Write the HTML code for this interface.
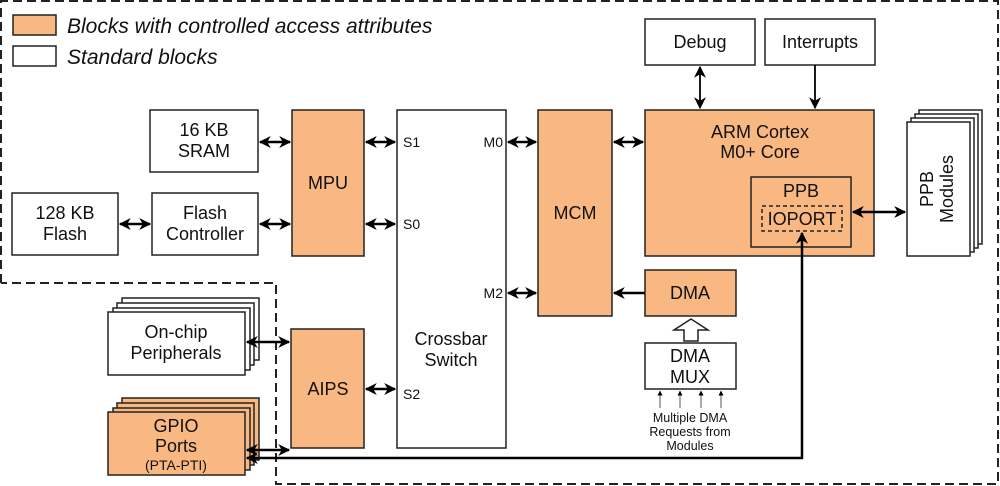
<!DOCTYPE html>
<html><head><meta charset="utf-8"><style>
html,body{margin:0;padding:0;background:#fff}
svg{display:block}
text{font-family:"Liberation Sans",Arial,sans-serif;fill:#111}
</style></head><body>
<svg width="1000" height="486" viewBox="0 0 1000 486" xmlns="http://www.w3.org/2000/svg">
<defs>
<marker id="a" viewBox="0 0 10 10" refX="9" refY="5" markerWidth="12" markerHeight="12" markerUnits="userSpaceOnUse" orient="auto-start-reverse"><path d="M0,0L10,5L0,10L3,5z" fill="#000"/></marker>
<marker id="s" viewBox="0 0 10 10" refX="9" refY="5" markerWidth="5" markerHeight="6" markerUnits="userSpaceOnUse" orient="auto"><path d="M0,0L10,5L0,10z" fill="#000"/></marker>
</defs>
<g fill="none" stroke="#222" stroke-width="2" stroke-dasharray="9,5">
<path d="M1,283 V1 H998 V484 H276 V283 H1"/>
</g>
<g stroke="#222" stroke-width="1.5">
<rect x="13" y="15" width="43" height="20" fill="#f9b882"/>
<rect x="13" y="46" width="43" height="20" fill="#fff"/>
</g>
<text x="67" y="33" font-size="21" font-style="italic">Blocks with controlled access attributes</text>
<text x="67" y="64" font-size="21" font-style="italic">Standard blocks</text>

<g stroke="#222" stroke-width="1.5" font-size="18">
<rect x="645" y="19" width="110" height="46" fill="#fff"/>
<rect x="765" y="19" width="110" height="46" fill="#fff"/>
<rect x="645" y="110" width="229" height="146" fill="#f9b882"/>
<rect x="751" y="177" width="100" height="70" fill="#f9b882"/>
<rect x="762" y="206" width="80" height="25" fill="none" stroke-dasharray="4,3"/>
<rect x="919" y="110" width="63" height="134" fill="#fff"/>
<rect x="915" y="114" width="63" height="134" fill="#fff"/>
<rect x="911" y="118" width="63" height="134" fill="#fff"/>
<rect x="907" y="122" width="63" height="134" fill="#fff"/>
<rect x="538" y="110" width="74" height="206" fill="#f9b882"/>
<rect x="397" y="110" width="109" height="338" fill="#fff"/>
<rect x="292" y="110" width="72" height="146" fill="#f9b882"/>
<rect x="150" y="110" width="108" height="62" fill="#fff"/>
<rect x="152" y="193" width="106" height="62" fill="#fff"/>
<rect x="12" y="193" width="106" height="62" fill="#fff"/>
<rect x="645" y="270" width="91" height="46" fill="#f9b882"/>
<rect x="645" y="343" width="91" height="46" fill="#fff"/>
<rect x="122" y="298" width="137" height="62" fill="#fff"/>
<rect x="117" y="303" width="137" height="62" fill="#fff"/>
<rect x="113" y="308" width="137" height="62" fill="#fff"/>
<rect x="108" y="312" width="137" height="63" fill="#fff"/>
<rect x="122" y="398" width="137" height="62" fill="#f9b882"/>
<rect x="117" y="403" width="137" height="62" fill="#f9b882"/>
<rect x="113" y="408" width="137" height="62" fill="#f9b882"/>
<rect x="108" y="412" width="137" height="63" fill="#f9b882"/>
<rect x="291" y="329" width="73" height="119" fill="#f9b882"/>
</g>

<g stroke="#000" stroke-width="2.5" fill="none">
<line x1="260" y1="142" x2="290" y2="142" marker-start="url(#a)" marker-end="url(#a)"/>
<line x1="260" y1="224" x2="290" y2="224" marker-start="url(#a)" marker-end="url(#a)"/>
<line x1="120" y1="224" x2="150" y2="224" marker-start="url(#a)" marker-end="url(#a)"/>
<line x1="366" y1="142" x2="395" y2="142" marker-start="url(#a)" marker-end="url(#a)"/>
<line x1="366" y1="224" x2="395" y2="224" marker-start="url(#a)" marker-end="url(#a)"/>
<line x1="366" y1="389" x2="395" y2="389" marker-start="url(#a)" marker-end="url(#a)"/>
<line x1="508" y1="142" x2="536" y2="142" marker-start="url(#a)" marker-end="url(#a)"/>
<line x1="508" y1="293" x2="536" y2="293" marker-start="url(#a)" marker-end="url(#a)"/>
<line x1="614" y1="142" x2="643" y2="142" marker-start="url(#a)" marker-end="url(#a)"/>
<line x1="645" y1="293" x2="614" y2="293" marker-end="url(#a)"/>
<line x1="853" y1="212" x2="905" y2="212" marker-start="url(#a)" marker-end="url(#a)"/>
<line x1="247" y1="342" x2="289" y2="342" marker-start="url(#a)" marker-end="url(#a)"/>
<line x1="247" y1="450" x2="289" y2="450" marker-start="url(#a)" marker-end="url(#a)"/>
<polyline points="247,458 802,458 802,233" marker-start="url(#a)" marker-end="url(#a)"/>
</g>
<g stroke="#000" stroke-width="1.8" fill="none">
<line x1="700" y1="67" x2="700" y2="108" marker-start="url(#a)" marker-end="url(#a)"/>
<line x1="815" y1="65" x2="815" y2="108" marker-end="url(#a)"/>
</g>
<g stroke="#555" stroke-width="1" fill="none">
<line x1="660" y1="408" x2="660" y2="391" marker-end="url(#s)"/>
<line x1="680" y1="408" x2="680" y2="391" marker-end="url(#s)"/>
<line x1="701" y1="408" x2="701" y2="391" marker-end="url(#s)"/>
<line x1="721" y1="408" x2="721" y2="391" marker-end="url(#s)"/>
</g>
<path d="M684,341 V330 H674 L691,319 L708,330 H698 V341 Z" fill="#fff" stroke="#222" stroke-width="1.5"/>

<g font-size="18" text-anchor="middle">
<text x="700" y="48">Debug</text>
<text x="820" y="48">Interrupts</text>
<text x="760" y="138">ARM Cortex</text>
<text x="760" y="158">M0+ Core</text>
<text x="801" y="197">PPB</text>
<text x="802" y="225">IOPORT</text>
<text x="575" y="219">MCM</text>
<text x="328" y="189">MPU</text>
<text x="204" y="136">16 KB</text>
<text x="204" y="157">SRAM</text>
<text x="205" y="219">Flash</text>
<text x="205" y="240">Controller</text>
<text x="65" y="219">128 KB</text>
<text x="65" y="240">Flash</text>
<text x="690" y="299">DMA</text>
<text x="690" y="362">DMA</text>
<text x="690" y="383">MUX</text>
<text x="451" y="345">Crossbar</text>
<text x="451" y="366">Switch</text>
<text x="176" y="338">On-chip</text>
<text x="176" y="359">Peripherals</text>
<text x="176" y="432">GPIO</text>
<text x="176" y="452">Ports</text>
<text x="176" y="470" font-size="14">(PTA-PTI)</text>
<text x="328" y="395">AIPS</text>
<text transform="translate(933,189) rotate(-90)">PPB</text>
<text transform="translate(953,189) rotate(-90)">Modules</text>
</g>
<g font-size="14">
<text x="403" y="147">S1</text>
<text x="403" y="229">S0</text>
<text x="403" y="399">S2</text>
<text x="503" y="147" text-anchor="end">M0</text>
<text x="503" y="298" text-anchor="end">M2</text>
</g>
<g font-size="12.5" text-anchor="middle">
<text x="690" y="422">Multiple DMA</text>
<text x="690" y="436">Requests from</text>
<text x="690" y="450">Modules</text>
</g>
</svg>
</body></html>
